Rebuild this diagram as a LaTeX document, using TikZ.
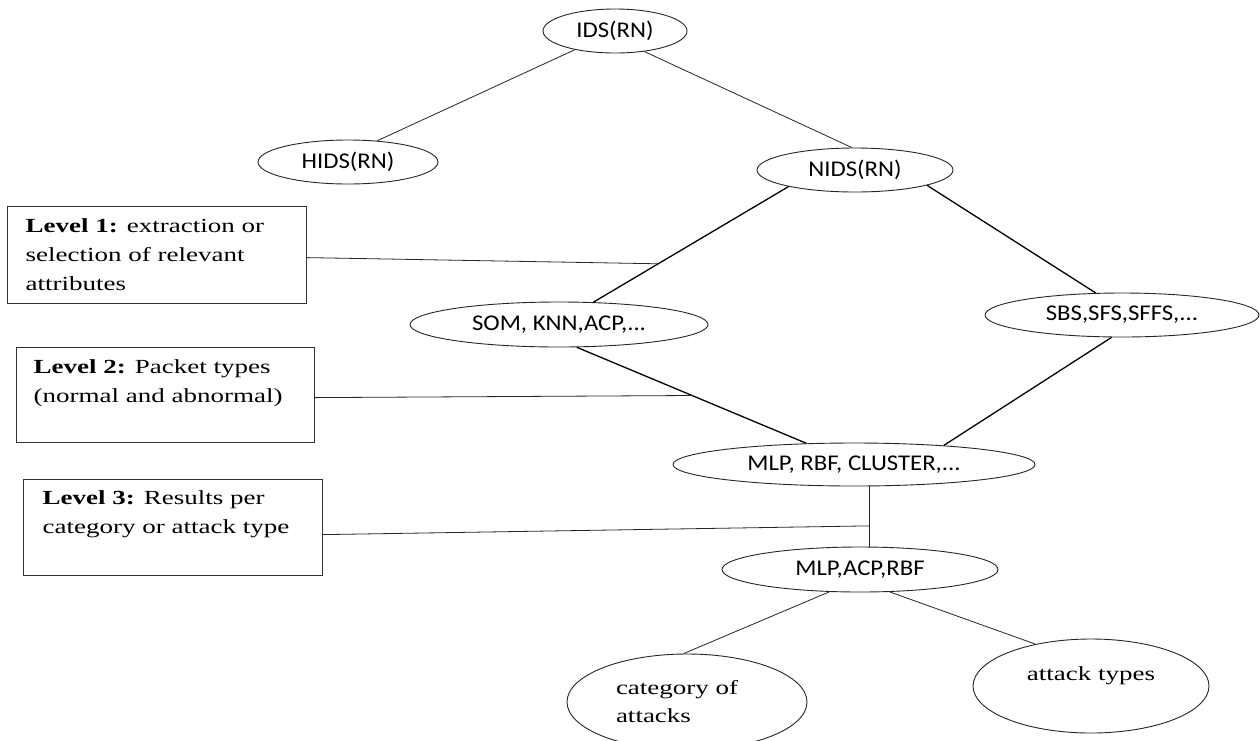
\documentclass[tikz,border=0pt]{standalone}
\usepackage{fontspec}
\setmainfont{Liberation Serif}[FakeStretch=1.35]
\newfontfamily\carlito{Carlito}[FakeStretch=1.1]
\usetikzlibrary{shapes.geometric,calc}
\begin{document}
\begin{tikzpicture}[x=1pt,y=-1pt,
  oval/.style={ellipse, draw=black!85, line width=0.9pt, inner sep=0pt, font=\carlito\fontsize{22.5}{26}\selectfont},
  bigoval/.style={ellipse, draw=black!85, line width=0.9pt, inner sep=0pt, font=\fontsize{20}{28}\selectfont},
  levelbox/.style={draw=black!80, line width=1.2pt, inner sep=0pt, anchor=north west, font=\fontsize{20}{29}\selectfont},
  link/.style={draw=black!85, line width=0.8pt},
  heavylink/.style={draw=black, line width=1.3pt}]
\useasboundingbox (0,0) rectangle (1260,740);
\clip (0,0) rectangle (1260,740);
\fill[white] (0,0) rectangle (1260,740);

% ellipses
\node[oval, minimum width=144pt, minimum height=44pt] (ids) at (615,31) {IDS(RN)};
\node[oval, minimum width=180pt, minimum height=44pt] (hids) at (348,162) {HIDS(RN)};
\node[oval, minimum width=196pt, minimum height=44pt] (nids) at (855,170) {NIDS(RN)};
\node[oval, minimum width=298pt, minimum height=45pt] (som) at (559,324.5) {SOM, KNN,ACP,...};
\node[oval, minimum width=274pt, minimum height=44pt] (sbs) at (1122,315) {SBS,SFS,SFFS,...};
\node[oval, minimum width=362pt, minimum height=43pt] (mlp) at (854,464.5) {MLP, RBF, CLUSTER,...};
\node[oval, minimum width=276pt, minimum height=45pt] (acp) at (860,569.5) {MLP,ACP,RBF};
\node[bigoval, minimum width=240pt, minimum height=96pt, text width=142pt, align=left] (cat) at (687,702) {category of\\attacks};
\node[bigoval, minimum width=236pt, minimum height=94pt] (att) at (1091,686) {\raisebox{10.7pt}[13.7pt][4.3pt]{attack types}};

% level boxes
\node[levelbox] (l1) at (7,206) {\parbox[c][97pt][t]{299pt}{\vspace*{12pt}\leftskip=18pt\relax
  \textbf{Level 1:} extraction or\\selection of relevant\\attributes}};
\node[levelbox] (l2) at (16,347) {\parbox[c][95pt][t]{298pt}{\vspace*{12pt}\leftskip=17pt\relax
  \textbf{Level 2:} Packet types\\(normal and abnormal)}};
\node[levelbox] (l3) at (23,479) {\parbox[c][96pt][t]{299pt}{\vspace*{11pt}\leftskip=19pt\relax
  \textbf{Level 3:} Results per\\category or attack type}};

% connectors
\draw[link] (ids.205) -- (hids.36);
\draw[link] (ids.325) -- (nids.98);
\draw[heavylink] (nids.194.5) -- coordinate[pos=0.668] (j1) (som.33.7);
\draw[heavylink] (nids.348.4) -- (sbs.140.8);
\draw[heavylink] (som.308) -- coordinate[pos=0.502] (j2) (mlp.156.4);
\draw[heavylink] (sbs.245.6) -- (mlp.12.6);
\draw[link] ($(mlp.south)+(15,0)$) -- coordinate[pos=0.656] (j3) ($(acp.north)+(9,0)$);
\draw[link] ([yshift=-2.5pt]l1.east) -- (j1);
\draw[link] ([yshift=-2.5pt]l2.east) -- (j2);
\draw[link] ([yshift=-7pt]l3.east) -- (j3);
\draw[link] (acp.216.9) -- (cat.94.5);
\draw[link] (acp.323.1) -- (att.143.4);
\end{tikzpicture}
\end{document}
